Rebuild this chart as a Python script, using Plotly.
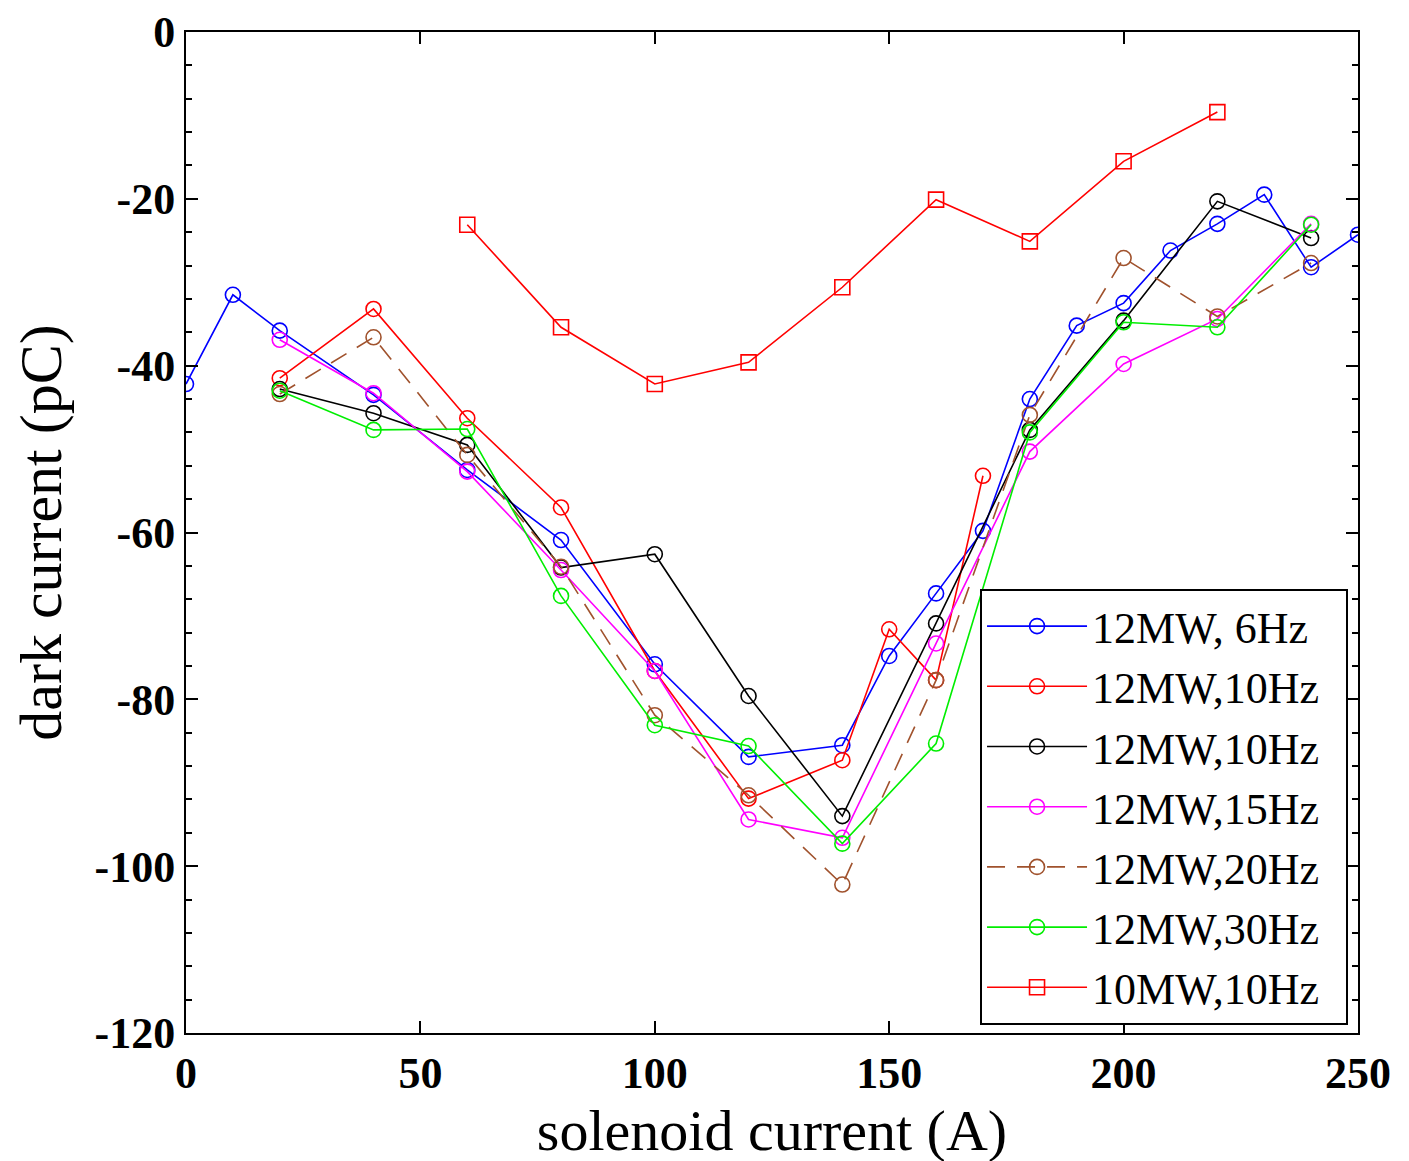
import plotly.graph_objects as go

# ---- data ----
names = ["12MW, 6Hz", "12MW,10Hz", "12MW,10Hz", "12MW,15Hz", "12MW,20Hz", "12MW,30Hz", "10MW,10Hz"]

x_6hz = [0, 10, 20, 40, 60, 80, 100, 120, 140, 150, 160, 170, 180, 190, 200, 210, 220, 230, 240, 250]
y_6hz = [-42.2, -31.5, -35.8, -43.5, -52.5, -60.9, -75.8, -86.9, -85.5, -74.8, -67.3, -59.8, -44.0, -35.2, -32.5, -26.2, -23.0, -19.5, -28.2, -24.3]

x_10hz_a = [20, 40, 60, 80, 100, 120, 140, 150, 160, 170]
y_10hz_a = [-41.5, -33.2, -46.3, -57.0, -76.6, -91.9, -87.3, -71.6, -77.7, -53.2]

x_10hz_b = [20, 40, 60, 80, 100, 120, 140, 160, 180, 200, 220, 240]
y_10hz_b = [-42.8, -45.7, -49.5, -64.2, -62.6, -79.6, -94.0, -70.9, -47.7, -34.6, -20.3, -24.7]

x_15hz = [20, 40, 60, 80, 100, 120, 140, 160, 180, 200, 220, 240]
y_15hz = [-36.9, -43.3, -52.7, -64.5, -76.6, -94.4, -96.6, -73.3, -50.3, -39.8, -34.4, -23.0]

x_20hz = [20, 40, 60, 80, 100, 120, 140, 160, 180, 200, 220, 240]
y_20hz = [-43.4, -36.6, -50.7, -64.1, -81.9, -91.5, -102.2, -77.7, -45.9, -27.1, -34.1, -27.7]

x_30hz = [20, 40, 60, 80, 100, 120, 140, 160, 180, 200, 220, 240]
y_30hz = [-43.0, -47.7, -47.6, -67.6, -83.1, -85.6, -97.3, -85.3, -48.0, -34.8, -35.4, -23.1]

x_10mw = [60, 80, 100, 120, 140, 160, 180, 200, 220]
y_10mw = [-23.1, -35.4, -42.2, -39.6, -30.6, -20.1, -25.1, -15.5, -9.6]

x_ticks = [0, 50, 100, 150, 200, 250]
y_ticks = [0, -20, -40, -60, -80, -100, -120]

# ---- styles ----
series = [
    (x_6hz, y_6hz, "#0000ff", "circle-open", "solid"),
    (x_10hz_a, y_10hz_a, "#ff0000", "circle-open", "solid"),
    (x_10hz_b, y_10hz_b, "#000000", "circle-open", "solid"),
    (x_15hz, y_15hz, "#ff00ff", "circle-open", "solid"),
    (x_20hz, y_20hz, "#a0522d", "circle-open", "dash"),
    (x_30hz, y_30hz, "#00ee00", "circle-open", "solid"),
    (x_10mw, y_10mw, "#ff0000", "square-open", "solid"),
]

fig = go.Figure()
for name, (xs, ys, col, sym, dash) in zip(names, series):
    fig.add_trace(go.Scatter(
        x=xs, y=ys, name=name + "\u00a0\u00a0", mode="lines+markers",
        line=dict(color=col, width=1.6, dash=("18px,12px" if dash == "dash" else "solid")),
        marker=dict(symbol=sym, size=15, color=col, line=dict(color=col, width=1.6)),
    ))

serif = "Liberation Serif, Times New Roman, serif"
fig.update_layout(
    width=1409, height=1161,
    margin=dict(l=178, r=59, t=24, b=136, autoexpand=False),
    paper_bgcolor="white", plot_bgcolor="white",
    font=dict(family=serif, color="black"),
    showlegend=True,
    legend=dict(
        x=0.9915, y=0.008, xanchor="right", yanchor="bottom",
        bgcolor="white", bordercolor="black", borderwidth=2,
        font=dict(family=serif, size=44, color="black"),
        itemwidth=100, tracegroupgap=0,
    ),
    xaxis=dict(
        range=[0, 250], tickvals=x_ticks, ticktext=[str(v) for v in x_ticks],
        ticks="inside", ticklen=12, tickwidth=2, tickcolor="black",
        showline=True, linecolor="black", linewidth=2, mirror="ticks",
        showgrid=False, zeroline=False, automargin=False, ticklabeloverflow="allow",
        tickfont=dict(family=serif, size=44, color="black", weight="bold"),
        title=dict(text="solenoid current (A)", font=dict(family=serif, size=58), standoff=8),
    ),
    yaxis=dict(
        range=[-120, 0], tickvals=y_ticks, ticktext=[str(v) for v in y_ticks],
        ticks="inside", ticklen=12, tickwidth=2, tickcolor="black",
        minor=dict(dtick=4, ticks="inside", ticklen=6, tickwidth=2, tickcolor="black", showgrid=False),
        showline=True, linecolor="black", linewidth=2, mirror="ticks",
        showgrid=False, zeroline=False, automargin=False, ticklabeloverflow="allow",
        tickfont=dict(family=serif, size=44, color="black", weight="bold"),
        title=dict(text="dark current (pC)", font=dict(family=serif, size=60), standoff=16),
    ),
)

fig.write_html("out.html")
